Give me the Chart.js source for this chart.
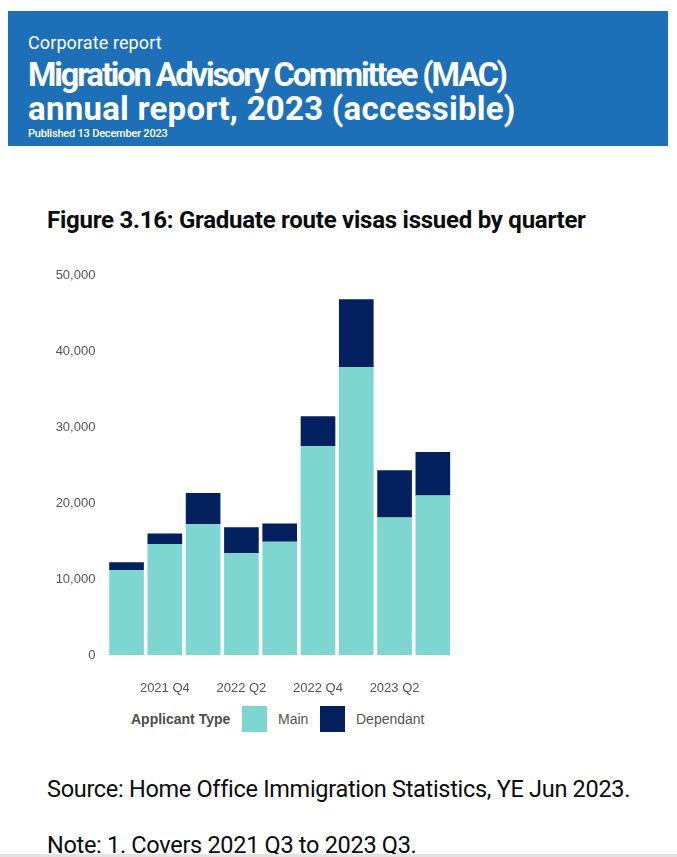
<!DOCTYPE html>
<html>
<head>
<meta charset="utf-8">
<script src="https://cdn.jsdelivr.net/npm/chart.js@4"></script>
<style>
  html, body { margin: 0; padding: 0; background: #fff; }
  body { width: 677px; height: 857px; position: relative; overflow: hidden; font-family: Roboto, "Noto Sans", sans-serif; color: #0b0c0c; }
  .banner { position: absolute; left: 8px; top: 11px; width: 660px; height: 135px; background: #1d70b8; color: #fff; }
  .banner .kind { position: absolute; left: 20px; top: 21px; font-size: 18px; letter-spacing: 0.1px; }
  .banner .t { position: absolute; left: 20px; margin: 0; line-height: 36px; font-weight: 700; white-space: nowrap; }
  .banner .pub { position: absolute; left: 20px; top: 116px; font-size: 11px; font-weight: 500; letter-spacing: -0.2px; }
  .fig { position: absolute; left: 47px; top: 206px; margin: 0; font-size: 24px; line-height: 28px; font-weight: 700; letter-spacing: -0.25px; white-space: nowrap; }
  #box { position: absolute; left: 40px; top: 255px; width: 420px; height: 445px; }
  .legend { position: absolute; top: 706px; left: 131px; height: 26px; font-family: "Liberation Sans", Arial, sans-serif; font-size: 14px; color: #555; }
  .legend span { position: absolute; top: 5px; white-space: nowrap; }
  .legend i { position: absolute; top: 0; width: 25px; height: 26px; }
  .src { position: absolute; left: 47px; font-size: 23.5px; line-height: 28px; letter-spacing: -0.3px; white-space: nowrap; }
  .edge { position: absolute; left: 0; top: 854px; width: 677px; height: 3px; background: #e3e3e3; }
</style>
</head>
<body>
<div class="banner">
  <div class="kind">Corporate report</div>
  <div class="t" style="top:46px;font-size:32.5px;letter-spacing:-2.1px;">Migration Advisory Committee (MAC)</div>
  <div class="t" style="top:80px;font-size:33px;letter-spacing:0.25px;">annual report, 2023 (accessible)</div>
  <div class="pub">Published 13 December 2023</div>
</div>
<h2 class="fig">Figure 3.16: Graduate route visas issued by quarter</h2>
<div id="box"><canvas id="chart"></canvas></div>
<div class="legend">
  <span style="left:0;font-weight:700;color:#4d4d4d;">Applicant Type</span>
  <i style="left:111px;background:#7dd6cf;"></i>
  <span style="left:147px;">Main</span>
  <i style="left:189px;background:#03205f;"></i>
  <span style="left:225px;">Dependant</span>
</div>
<div class="src" style="top:775px;">Source: Home Office Immigration Statistics, YE Jun 2023.</div>
<div class="src" style="top:831px;">Note: 1. Covers 2021 Q3 to 2023 Q3.</div>
<div class="edge"></div>
<script>
const quarters = ['2021 Q3', '2021 Q4', '2022 Q1', '2022 Q2', '2022 Q3', '2022 Q4', '2023 Q1', '2023 Q2', '2023 Q3'];
const mainVisas = [11200, 14600, 17200, 13400, 14900, 27500, 37900, 18100, 21000];
const dependantVisas = [1000, 1400, 4100, 3400, 2400, 3900, 8900, 6200, 5700];
const yTicks = [0, 10000, 20000, 30000, 40000, 50000];

const tickFont = { family: 'Liberation Sans', size: 13 };

new Chart(document.getElementById('chart'), {
  type: 'bar',
  data: {
    labels: quarters,
    datasets: [{
      label: 'Main',
      data: mainVisas,
      backgroundColor: '#7dd6cf',
      borderWidth: 0,
      categoryPercentage: 1,
      barPercentage: 0.905
    }, {
      label: 'Dependant',
      data: dependantVisas,
      backgroundColor: '#03205f',
      borderWidth: 0,
      categoryPercentage: 1,
      barPercentage: 0.905
    }]
  },
  options: {
    responsive: true,
    maintainAspectRatio: false,
    animation: false,
    layout: { padding: { top: 20, right: 8, left: 0, bottom: 0 } },
    plugins: {
      legend: { display: false },
      tooltip: { enabled: false }
    },
    scales: {
      x: {
        stacked: true,
        grid: { display: false, drawTicks: false },
        border: { display: false },
        afterFit: function(scale) { scale.height = 45; },
        ticks: {
          autoSkip: false,
          maxRotation: 0,
          padding: 26,
          color: '#555',
          font: tickFont,
          callback: function(value, index) {
            return index % 2 === 1 ? quarters[index] : '';
          }
        }
      },
      y: {
        stacked: true,
        min: 0,
        max: 50000,
        grid: { display: false, drawTicks: false },
        border: { display: false },
        afterFit: function(scale) { scale.width = 67.4; },
        afterBuildTicks: function(scale) { scale.ticks = yTicks.map(v => ({ value: v })); },
        ticks: {
          padding: 12,
          color: '#555',
          font: tickFont,
          callback: v => v.toLocaleString('en-GB')
        }
      }
    }
  }
});
</script>
</body>
</html>
